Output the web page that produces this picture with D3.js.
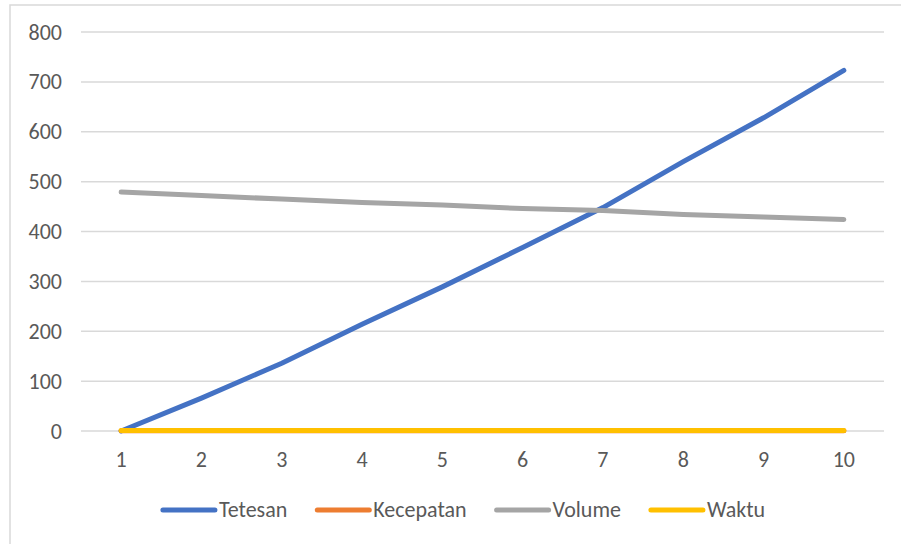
<!DOCTYPE html>
<html>
<head>
<meta charset="utf-8">
<script src="https://cdn.jsdelivr.net/npm/d3@7"></script>
<style>
  html, body { margin: 0; padding: 0; background: #fff; }
  svg { display: block; font-family: Calibri, Carlito, Roboto, sans-serif; }
</style>
</head>
<body>
<svg id="chart" width="901" height="544"></svg>
<script>
// Data
const categories = [1, 2, 3, 4, 5, 6, 7, 8, 9, 10];
const tetesan   = [0, 66, 136, 214, 289, 368, 448, 540, 628, 723];
const kecepatan = [0.5, 0.5, 0.5, 0.5, 0.5, 0.5, 0.5, 0.5, 0.5, 0.5];
const volume    = [479, 472, 465, 458, 453, 446, 442, 434, 429, 424];
const waktu     = [1, 1, 1, 1, 1, 1, 1, 1, 1, 1];
const yTicks    = [0, 100, 200, 300, 400, 500, 600, 700, 800];

const seriesNames  = ["Tetesan", "Kecepatan", "Volume", "Waktu"];
const seriesValues = [tetesan, kecepatan, volume, waktu];
const seriesColors = ["#4472C4", "#ED7D31", "#A5A5A5", "#FFC000"];

const svg = d3.select("#chart");
const textColor = "#595959";
const gridColor = "#D9D9D9";
const fontFamily = "Calibri, Carlito, Roboto, sans-serif";
const fontSize = 22;
const lineWidth = 5;

// Chart frame
svg.append("rect")
  .attr("x", 10).attr("y", 5)
  .attr("width", 1000).attr("height", 1000)
  .attr("fill", "none")
  .attr("stroke", gridColor)
  .attr("stroke-width", 1.5);

const plot = { left: 81, right: 884, top: 32, bottom: 431 };

const x = d3.scaleBand()
  .domain(categories)
  .range([plot.left, plot.right])
  .padding(0);
const xc = d => x(d) + x.bandwidth() / 2;

const y = d3.scaleLinear()
  .domain([0, 800])
  .range([plot.bottom, plot.top]);

// Horizontal gridlines
svg.append("g")
  .selectAll("line")
  .data(yTicks)
  .join("line")
  .attr("x1", plot.left).attr("x2", plot.right)
  .attr("y1", d => y(d)).attr("y2", d => y(d))
  .attr("stroke", gridColor)
  .attr("stroke-width", 1.5);

// Y axis labels
const yAxis = svg.append("g")
  .attr("transform", `translate(${plot.left},0)`)
  .call(d3.axisLeft(y).tickValues(yTicks).tickSize(0).tickPadding(19))
  .attr("font-family", fontFamily)
  .attr("font-size", fontSize);
yAxis.select(".domain").remove();
yAxis.selectAll("text").attr("fill", textColor);

// X axis labels
const xAxis = svg.append("g")
  .attr("transform", `translate(0,${plot.bottom})`)
  .call(d3.axisBottom(x).tickSize(0).tickPadding(20))
  .attr("font-family", fontFamily)
  .attr("font-size", fontSize);
xAxis.select(".domain").remove();
xAxis.selectAll("text").attr("fill", textColor);

// Series lines
const line = d3.line()
  .x((d, i) => xc(categories[i]))
  .y(d => y(d));

svg.append("g")
  .selectAll("path")
  .data(seriesValues)
  .join("path")
  .attr("d", d => line(d))
  .attr("fill", "none")
  .attr("stroke", (d, i) => seriesColors[i])
  .attr("stroke-width", lineWidth)
  .attr("stroke-linecap", "round")
  .attr("stroke-linejoin", "round");

// Legend
const legend = svg.append("g")
  .attr("font-family", fontFamily)
  .attr("font-size", fontSize);
const legendY = 510;
const sampleLen = 52;
const textGap = 4;
const itemGap = 30;

const items = legend.selectAll("g")
  .data(seriesNames)
  .join("g");

items.append("line")
  .attr("x1", 0).attr("x2", sampleLen)
  .attr("y1", 0).attr("y2", 0)
  .attr("stroke", (d, i) => seriesColors[i])
  .attr("stroke-width", lineWidth)
  .attr("stroke-linecap", "round");

items.append("text")
  .attr("x", sampleLen + textGap)
  .attr("y", 0)
  .attr("dy", "0.32em")
  .attr("fill", textColor)
  .text(d => d);

let widths = [];
items.each(function() {
  widths.push(sampleLen + textGap + d3.select(this).select("text").node().getComputedTextLength());
});
const total = d3.sum(widths) + itemGap * (widths.length - 1);
let cursor = 464 - total / 2;
items.attr("transform", (d, i) => {
  const tx = cursor;
  cursor += widths[i] + itemGap;
  return `translate(${tx},${legendY})`;
});
</script>
</body>
</html>
